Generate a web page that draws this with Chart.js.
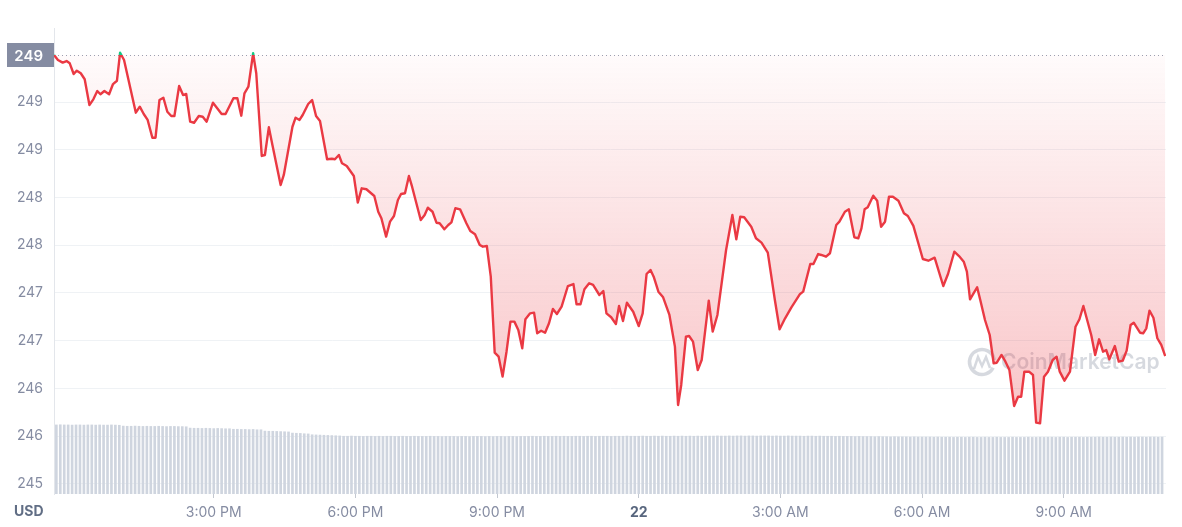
<!DOCTYPE html>
<html>
<head>
<meta charset="utf-8">
<script src="https://cdn.jsdelivr.net/npm/chart.js@4.4.0/dist/chart.umd.min.js"></script>
<style>
  html, body { margin: 0; padding: 0; background: #fff; }
  #wrap { width: 1182px; height: 527px; position: relative; }
</style>
</head>
<body>
<div id="wrap"><canvas id="chart"></canvas></div>
<script>
// Price samples: minutes since 00:00 on the 21st, and price in USD
const priceTimes = [
  697, 702, 708, 713, 717, 722, 726, 731, 736, 742,
  747, 752, 756, 761, 767, 772, 777, 781, 786, 801,
  806, 811, 816, 822, 826, 831, 836, 841, 846, 850,
  856, 861, 865, 870, 875, 881, 886, 891, 899, 910,
  915, 925, 930, 935, 939, 944, 950, 954, 961, 965,
  970, 975, 985, 989, 1000, 1004, 1009, 1013, 1020, 1025,
  1030, 1035, 1044, 1050, 1054, 1059, 1063, 1069, 1078, 1083,
  1088, 1094, 1104, 1109, 1113, 1119, 1124, 1129, 1134, 1138,
  1143, 1148, 1152, 1163, 1168, 1172, 1178, 1183, 1187, 1193,
  1198, 1202, 1207, 1213, 1221, 1226, 1232, 1238, 1242, 1247,
  1252, 1257, 1262, 1267, 1272, 1277, 1282, 1287, 1292, 1296,
  1302, 1307, 1311, 1316, 1321, 1326, 1331, 1336, 1342, 1350,
  1357, 1361, 1366, 1371, 1377, 1382, 1390, 1395, 1399, 1405,
  1411, 1415, 1420, 1425, 1433, 1440, 1445, 1450, 1455, 1459,
  1465, 1471, 1479, 1486, 1490, 1494, 1500, 1504, 1509, 1515,
  1520, 1529, 1534, 1540, 1551, 1559, 1564, 1569, 1574, 1583,
  1589, 1596, 1604, 1613, 1619, 1626, 1634, 1645, 1649, 1658,
  1662, 1668, 1672, 1678, 1683, 1691, 1695, 1702, 1707, 1714,
  1719, 1723, 1727, 1731, 1738, 1743, 1748, 1753, 1758, 1763,
  1770, 1777, 1782, 1789, 1801, 1808, 1816, 1827, 1833, 1841,
  1847, 1853, 1857, 1861, 1866, 1870, 1874, 1880, 1886, 1891,
  1895, 1901, 1906, 1911, 1917, 1922, 1926, 1930, 1936, 1941,
  1945, 1950, 1955, 1960, 1966, 1971, 1975, 1981, 1988, 1995,
  2000, 2005, 2015, 2020, 2025, 2030, 2034, 2038, 2045, 2050,
  2055, 2060, 2065, 2069, 2077, 2081, 2085, 2089, 2094, 2099,
  2104, 2109
];

const prices = [
  249.492, 249.440, 249.412, 249.429, 249.405, 249.293, 249.328, 249.301, 249.238, 248.969,
  249.028, 249.115, 249.081, 249.115, 249.081, 249.188, 249.223, 249.516, 249.440, 248.888,
  248.951, 248.874, 248.812, 248.626, 248.626, 249.021, 249.045, 248.898, 248.853, 248.853,
  249.168, 249.073, 249.084, 248.794, 248.783, 248.853, 248.846, 248.794, 248.993, 248.874,
  248.874, 249.039, 249.039, 248.857, 249.091, 249.160, 249.510, 249.301, 248.435, 248.445,
  248.735, 248.532, 248.131, 248.236, 248.741, 248.836, 248.812, 248.864, 248.979, 249.021,
  248.853, 248.801, 248.400, 248.406, 248.400, 248.445, 248.358, 248.330, 248.225, 247.946,
  248.096, 248.086, 248.016, 247.851, 247.782, 247.590, 247.747, 247.806, 247.974, 248.037,
  248.044, 248.225, 248.113, 247.764, 247.817, 247.893, 247.851, 247.736, 247.730, 247.667,
  247.712, 247.740, 247.887, 247.876, 247.730, 247.649, 247.615, 247.503, 247.485, 247.492,
  247.171, 246.375, 246.333, 246.124, 246.385, 246.700, 246.700, 246.613, 246.421, 246.725,
  246.787, 246.794, 246.578, 246.605, 246.584, 246.683, 246.833, 246.780, 246.857, 247.073,
  247.094, 246.882, 246.882, 247.039, 247.102, 247.084, 246.979, 247.021, 246.787, 246.746,
  246.675, 246.864, 246.707, 246.898, 246.804, 246.654, 246.787, 247.199, 247.241, 247.171,
  247.014, 246.955, 246.770, 246.438, 245.827, 246.037, 246.542, 246.550, 246.490, 246.194,
  246.298, 246.919, 246.595, 246.770, 247.450, 247.817, 247.562, 247.799, 247.793, 247.694,
  247.573, 247.527, 247.422, 246.927, 246.620, 246.735, 246.850, 246.990, 247.014, 247.304,
  247.304, 247.408, 247.398, 247.380, 247.416, 247.712, 247.747, 247.851, 247.876, 247.583,
  247.573, 247.677, 247.876, 247.897, 248.019, 247.966, 247.694, 247.747, 248.008, 248.008,
  247.966, 247.835, 247.806, 247.702, 247.356, 247.338, 247.370, 247.073, 247.199, 247.432,
  247.387, 247.328, 247.223, 246.934, 247.003, 247.060, 246.927, 246.717, 246.560, 246.264,
  246.270, 246.351, 246.281, 246.194, 245.817, 245.914, 245.914, 246.176, 246.176, 246.141,
  245.642, 245.636, 246.124, 246.176, 246.298, 246.333, 246.176, 246.082, 246.176, 246.647,
  246.725, 246.864, 246.560, 246.351, 246.515, 246.385, 246.403, 246.306, 246.445, 246.281,
  246.291, 246.396, 246.665, 246.689, 246.584, 246.578, 246.630, 246.815, 246.741, 246.526,
  246.456, 246.340
];

// Rolling 24h volume (USD millions), one bar every 5 minutes from volumeStart
const volumeStart = 700;
const volumeStep = 5;
const volumes = [
  415, 416, 415, 415, 414, 415, 415, 414, 415, 415, 414, 415, 414, 414, 415, 414, 413,
  408, 407, 407, 408, 407, 406, 407, 406, 406, 407, 406, 405, 406, 406, 405, 405, 404,
  396, 395, 395, 394, 395, 394, 393, 394, 393, 392, 392,
  389, 389, 388, 388, 387, 388, 386, 386,
  378, 377, 377, 376, 375, 374, 373,
  366, 365, 364, 362, 361,
  356, 355, 354, 353, 352, 351, 350, 349,
  347, 347, 348, 347, 347, 346, 347, 347, 346, 347,
  346, 347, 347, 346, 346, 347, 346, 346, 347, 346,
  346, 346, 347, 346, 346, 345, 346, 346, 346, 345,
  346, 346, 345, 346, 346, 346, 345, 346, 345, 346,
  346, 345, 346, 346, 345, 346, 346, 346, 347, 346,
  346, 347, 346, 346, 347, 346, 347, 346, 346, 347,
  347, 346, 347, 347, 346, 347, 347, 347, 346, 347,
  347, 347, 348, 347, 347, 347, 348, 347, 347, 348,
  347, 348, 347, 347, 348, 347, 348, 347, 348, 347,
  348, 347, 348,
  348, 348, 349, 348, 348, 349, 348, 349, 349, 348,
  349, 349, 348, 349, 349, 349, 348, 349, 348, 348,
  349, 348, 348, 348, 347, 348, 348, 347, 348, 347,
  347, 347, 346, 347, 346, 346, 346, 345, 346, 345,
  345, 345, 344, 345, 344, 344, 343, 344, 343, 343,
  343, 342, 343, 342, 342, 342, 342,
  341, 342, 341, 341, 341, 340, 341, 341, 340, 341,
  341, 340, 340, 341, 340, 340, 341, 340, 340, 340,
  341, 340, 340, 340, 341, 340, 340, 341, 340, 341,
  341, 340, 341, 341, 340, 341, 341, 341, 340, 341,
  341, 341, 342, 341, 341, 342, 341, 341, 342, 341,
  342, 341, 342, 342, 341, 342, 342, 341, 342
];

const xTicks = [900, 1080, 1260, 1440, 1620, 1800, 1980];
const xTickLabels = ['3:00 PM', '6:00 PM', '9:00 PM', '22', '3:00 AM', '6:00 AM', '9:00 AM'];
const yTicks = [245, 245.5, 246, 246.5, 247, 247.5, 248, 248.5, 249];

const RED = '#ea3943';
const GREEN = '#16c784';
const GREY = '#858ca2';
const FONT = 'Inter';
const basePrice = prices[0];

const priceData = priceTimes.map((t, i) => ({ x: t, y: prices[i] }));
const volumeData = volumes.map((v, i) => ({ x: volumeStart + i * volumeStep, y: v }));

// Green above the opening price, red below it
const splitStroke = (ctx) => {
  const chart = ctx.chart;
  const area = chart.chartArea;
  if (!area) return RED;
  const yb = chart.scales.y.getPixelForValue(basePrice);
  const s = Math.min(Math.max((yb - area.top) / (area.bottom - area.top), 0), 1);
  const g = chart.ctx.createLinearGradient(0, area.top, 0, area.bottom);
  g.addColorStop(0, GREEN);
  g.addColorStop(s, GREEN);
  g.addColorStop(s, RED);
  g.addColorStop(1, RED);
  return g;
};

const areaFill = (ctx) => {
  const chart = ctx.chart;
  const area = chart.chartArea;
  if (!area) return 'rgba(234,57,67,0.1)';
  const yb = chart.scales.y.getPixelForValue(basePrice);
  const yLow = chart.scales.y.getPixelForValue(245.6);
  const g = chart.ctx.createLinearGradient(0, area.top, 0, yLow);
  const s = Math.min(Math.max((yb - area.top) / (yLow - area.top), 0), 1);
  g.addColorStop(0, 'rgba(22,199,132,0.15)');
  g.addColorStop(s, 'rgba(22,199,132,0.15)');
  g.addColorStop(s, 'rgba(234,57,67,0.02)');
  g.addColorStop(1, 'rgba(234,57,67,0.30)');
  return g;
};

// Dotted opening line, watermark, price badge and USD label
const decorations = {
  id: 'decorations',
  beforeDatasetsDraw(chart) {
    const { ctx, chartArea } = chart;
    const yb = chart.scales.y.getPixelForValue(basePrice);
    ctx.save();
    ctx.strokeStyle = '#9aa1b2';
    ctx.lineWidth = 1;
    ctx.setLineDash([1, 3]);
    ctx.beginPath();
    ctx.moveTo(chartArea.left, Math.round(yb) + 0.5);
    ctx.lineTo(chartArea.right, Math.round(yb) + 0.5);
    ctx.stroke();
    ctx.setLineDash([]);

    // watermark
    ctx.strokeStyle = 'rgba(128,138,157,0.32)';
    ctx.fillStyle = 'rgba(128,138,157,0.32)';
    ctx.lineWidth = 3.5;
    ctx.beginPath();
    ctx.arc(982, 362, 12.5, 0.15 * Math.PI, 1.95 * Math.PI);
    ctx.stroke();
    ctx.lineWidth = 2.5;
    ctx.beginPath();
    ctx.moveTo(974, 369);
    ctx.lineTo(978, 357);
    ctx.lineTo(982, 366);
    ctx.lineTo(986, 357);
    ctx.lineTo(990, 368);
    ctx.stroke();
    ctx.font = `600 21px ${FONT}`;
    ctx.textAlign = 'left';
    ctx.textBaseline = 'middle';
    ctx.fillText('CoinMarketCap', 1001, 363);
    ctx.restore();
  },
  afterDraw(chart) {
    const { ctx } = chart;
    const yb = chart.scales.y.getPixelForValue(basePrice);
    ctx.save();
    ctx.fillStyle = GREY;
    ctx.fillRect(7, Math.round(yb) - 12, 47, 24);
    ctx.fillStyle = '#ffffff';
    ctx.font = `600 15px ${FONT}`;
    ctx.textAlign = 'right';
    ctx.textBaseline = 'middle';
    ctx.fillText(Math.round(basePrice).toString(), 43, Math.round(yb) + 1);
    ctx.fillStyle = '#616e85';
    ctx.font = `700 14px ${FONT}`;
    ctx.textAlign = 'left';
    ctx.fillText('USD', 14, 512);
    ctx.restore();
  },
};

new Chart(document.getElementById('chart'), {
  data: {
    datasets: [
      {
        type: 'line',
        data: priceData,
        yAxisID: 'y',
        borderColor: splitStroke,
        backgroundColor: areaFill,
        borderWidth: 2.4,
        borderJoinStyle: 'round',
        pointRadius: 0,
        tension: 0,
        fill: { value: basePrice },
        order: 0,
      },
      {
        type: 'bar',
        data: volumeData,
        yAxisID: 'vol',
        backgroundColor: '#cfd5df',
        barThickness: 2,
        order: 1,
      },
    ],
  },
  options: {
    responsive: true,
    maintainAspectRatio: false,
    animation: false,
    layout: { padding: { top: 28, right: 16, left: 0, bottom: 0 } },
    plugins: {
      legend: { display: false },
      tooltip: { enabled: false },
    },
    scales: {
      x: {
        type: 'linear',
        offset: false,
        min: 697,
        max: 2110,
        afterBuildTicks: (scale) => {
          scale.ticks = xTicks.map((v) => ({ value: v }));
        },
        afterFit: (scale) => {
          scale.height = 33;
        },
        grid: { offset: false, drawOnChartArea: false, drawTicks: true, tickLength: 4, color: '#c3c8d1' },
        border: { display: false },
        ticks: {
          autoSkip: false,
          maxRotation: 0,
          padding: 6,
          color: (c) => (c.tick && c.tick.value === 1440 ? '#58667e' : GREY),
          font: (c) => ({
            family: FONT,
            size: 14,
            weight: c.tick && c.tick.value === 1440 ? '700' : '400',
          }),
          callback: (v) => xTickLabels[xTicks.indexOf(v)],
        },
      },
      y: {
        position: 'left',
        min: 244.895,
        max: 249.775,
        afterBuildTicks: (scale) => {
          scale.ticks = yTicks.map((v) => ({ value: v }));
        },
        afterFit: (scale) => {
          scale.width = 54;
        },
        grid: { color: '#eff2f5', drawTicks: false },
        border: { display: true, color: '#e3e6eb' },
        ticks: {
          padding: 11,
          color: GREY,
          font: { family: FONT, size: 14 },
          callback: (v) => Math.round(v).toString(),
        },
      },
      vol: {
        display: false,
        min: 0,
        max: 2800,
      },
    },
  },
  plugins: [decorations],
});
</script>
</body>
</html>
